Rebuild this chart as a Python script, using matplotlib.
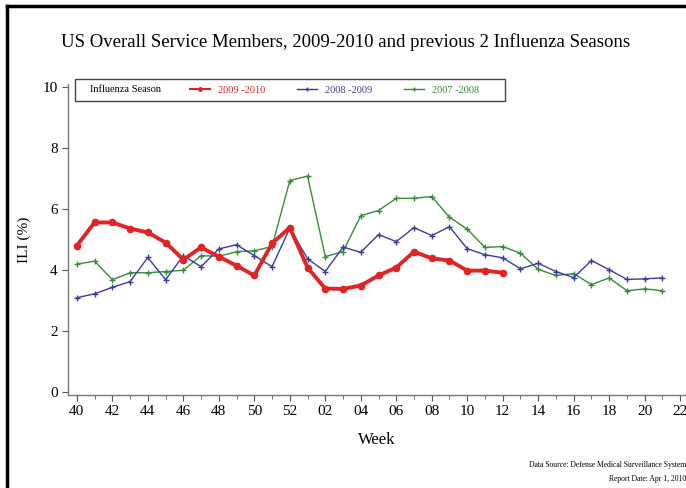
import matplotlib
matplotlib.use("Agg")
import matplotlib.pyplot as plt
from matplotlib.lines import Line2D
from matplotlib.patches import Rectangle
import numpy as np

plt.rcParams['font.family'] = ['Liberation Serif', 'DejaVu Serif']

# week labels across the season (40..52 then 01..22)
weeks = [str(w) for w in range(40, 53)] + ["%02d" % w for w in range(1, 23)]

season_0910 = [4.80, 5.56, 5.56, 5.36, 5.23, 4.90, 4.34, 4.74, 4.44, 4.14,
               3.82, 4.87, 5.39, 4.08, 3.39, 3.38, 3.49, 3.82, 4.08, 4.60,
               4.38, 4.31, 3.98, 3.98, 3.91]
season_0809 = [3.09, 3.22, 3.43, 3.62, 4.41, 3.68, 4.47, 4.11, 4.69, 4.83,
               4.47, 4.11, 5.37, 4.37, 3.95, 4.75, 4.58, 5.16, 4.93, 5.39,
               5.13, 5.42, 4.70, 4.50, 4.40, 4.04, 4.22, 3.95, 3.75, 4.31,
               4.01, 3.69, 3.71, 3.74]
season_0708 = [4.19, 4.29, 3.68, 3.91, 3.91, 3.95, 3.99, 4.47, 4.45, 4.60,
               4.63, 4.77, 6.93, 7.08, 4.44, 4.60, 5.78, 5.95, 6.35, 6.35,
               6.41, 5.73, 5.34, 4.74, 4.77, 4.55, 4.02, 3.82, 3.88, 3.52,
               3.74, 3.32, 3.38, 3.32]

red = "#e02424"
blue = "#3c3c9c"
green = "#3a8a3a"

fig = plt.figure(figsize=(6.86, 4.88), dpi=100)
ax = fig.add_axes([68 / 686, 1 - 395 / 488, 1 - 68 / 686, 311 / 488])

ax.plot(np.arange(len(season_0708)), season_0708, color=green, lw=1.0,
        marker="+", ms=4, mew=1.0, zorder=2)
ax.plot(np.arange(len(season_0809)), season_0809, color=blue, lw=1.0,
        marker="+", ms=4, mew=1.0, zorder=3)
ax.plot(np.arange(len(season_0910)), season_0910, color=red, lw=2.8,
        marker="o", ms=4.5, zorder=4)

ax.set_xlim(-0.5, 34.33)
ax.set_ylim(-0.1, 10.1)
ax.set_xticks(np.arange(0, len(weeks), 2))
ax.set_xticklabels(weeks[::2])
ax.set_xticks(np.arange(1, len(weeks), 2), minor=True)
ax.set_yticks(range(0, 11, 2))
ax.tick_params(axis="both", direction="out", labelsize=11, length=4,
               color="#555555")
ax.tick_params(axis="x", which="minor", direction="out", length=3,
               color="#555555")
ax.spines["top"].set_visible(False)
ax.spines["right"].set_visible(False)
for s in ("left", "bottom"):
    ax.spines[s].set_color("#777777")
    ax.spines[s].set_linewidth(1.0)

ax.set_xlabel("Week", fontsize=12, labelpad=10)
ax.set_ylabel("ILI (%)", fontsize=11, labelpad=8)

# legend box: label on the left, then the three seasons
fig.add_artist(Rectangle((75 / 686, 1 - 101 / 488), 430 / 686, 22 / 488,
                         transform=fig.transFigure, fill=True, facecolor="white",
                         edgecolor="#444444", lw=1.0, zorder=5))
fig.text(90 / 686, 1 - 90 / 488, "Influenza Season", ha="left", va="center",
         fontsize=7.5, zorder=6)
handles = [Line2D([], [], color=red, lw=1.5, marker="o", ms=2.5),
           Line2D([], [], color=blue, lw=1, marker="+", ms=3),
           Line2D([], [], color=green, lw=1, marker="+", ms=3)]
labels = ["2009 -2010", "2008 -2009", "2007 -2008"]
leg = fig.legend(handles, labels, ncol=3, loc="center left",
                 bbox_to_anchor=(190 / 686, 1 - 90 / 488),
                 fontsize=7.5, frameon=False, handlelength=1.9,
                 handletextpad=0.75, columnspacing=3.1, borderpad=0,
                 borderaxespad=0, labelcolor=[red, blue, green])
leg.set_zorder(6)

fig.text(346 / 686, 1 - 42 / 488,
         "US Overall Service Members, 2009-2010 and previous 2 Influenza Seasons",
         ha="center", va="center", fontsize=13.5)
fig.text(686 / 686, 1 - 465 / 488, "Data Source: Defense Medical Surveillance System",
         ha="right", va="center", fontsize=5.5)
fig.text(686 / 686, 1 - 479 / 488, "Report Date: Apr 1, 2010",
         ha="right", va="center", fontsize=5.5)

# outer frame (top and left edges visible)
fig.add_artist(Line2D([7 / 686, 1], [1 - 6 / 488, 1 - 6 / 488],
                      color="black", lw=2.5, transform=fig.transFigure))
fig.add_artist(Line2D([7 / 686, 7 / 686], [0, 1 - 6 / 488],
                      color="black", lw=2.5, transform=fig.transFigure))

fig.savefig("out.png", dpi=100)
